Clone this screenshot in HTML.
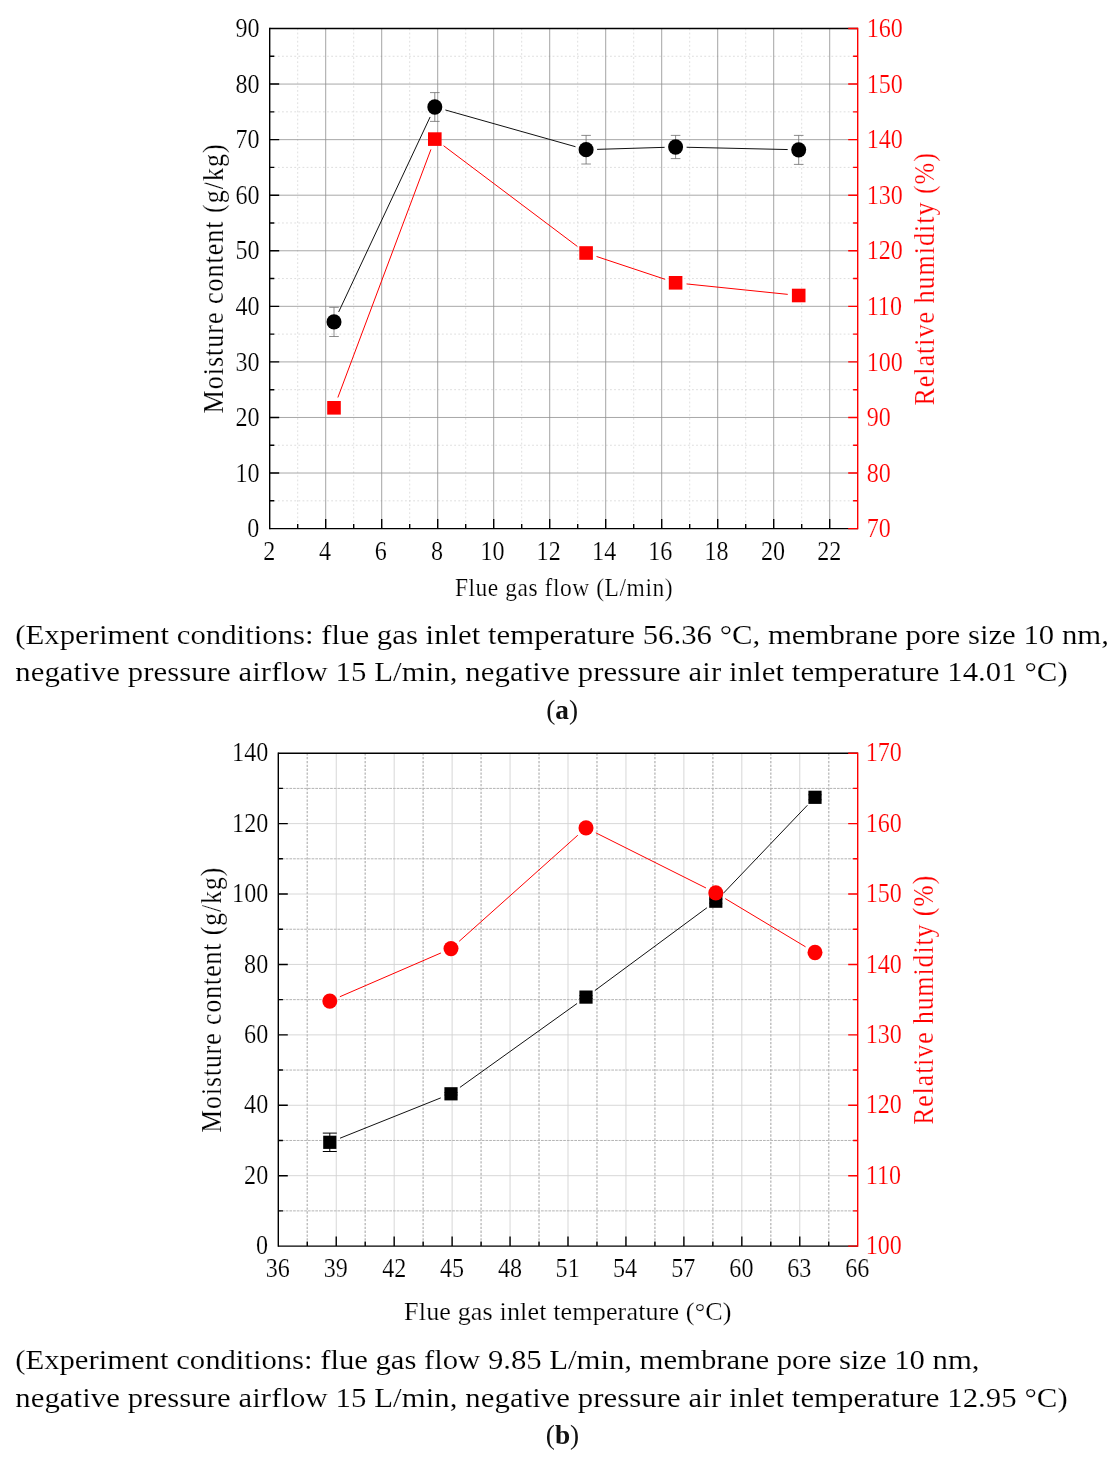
<!DOCTYPE html>
<html lang="en"><head><meta charset="utf-8"><title>Figure</title>
<style>
html,body{margin:0;padding:0;background:#fff;}
body{width:1118px;height:1459px;position:relative;overflow:hidden;font-family:'Liberation Serif','Times New Roman',Times,serif;color:#000;}
svg{position:absolute;left:0;top:0;}
svg text{font-family:'Liberation Serif','Times New Roman',Times,serif;}
</style></head><body>
<svg width="1118" height="1459" viewBox="0 0 1118 1459">
<g id="chartA">
<path d="M297.7 28.5V528.6M353.7 28.5V528.6M409.7 28.5V528.6M465.7 28.5V528.6M521.7 28.5V528.6M577.7 28.5V528.6M633.7 28.5V528.6M689.7 28.5V528.6M745.7 28.5V528.6M801.7 28.5V528.6" stroke="#d6d6d6" stroke-width="0.8" fill="none" stroke-dasharray="1.8 2.3"/>
<path d="M269.7 500.82H857.7M269.7 445.25H857.7M269.7 389.68H857.7M269.7 334.12H857.7M269.7 278.55H857.7M269.7 222.98H857.7M269.7 167.42H857.7M269.7 111.85H857.7M269.7 56.28H857.7" stroke="#d6d6d6" stroke-width="0.8" fill="none" stroke-dasharray="1.8 2.3"/>
<path d="M325.7 28.5V528.6M381.7 28.5V528.6M437.7 28.5V528.6M493.7 28.5V528.6M549.7 28.5V528.6M605.7 28.5V528.6M661.7 28.5V528.6M717.7 28.5V528.6M773.7 28.5V528.6M829.7 28.5V528.6" stroke="#828282" stroke-width="0.72" fill="none"/>
<path d="M269.7 473.03H857.7M269.7 417.47H857.7M269.7 361.9H857.7M269.7 306.33H857.7M269.7 250.77H857.7M269.7 195.2H857.7M269.7 139.63H857.7M269.7 84.07H857.7" stroke="#929292" stroke-width="0.8" fill="none"/>
<path d="M334 307.3V336.5M329.2 307.3H338.8M329.2 336.5H338.8M434.8 92.6V121.4M430 92.6H439.6M430 121.4H439.6M586.1 135.4V164M581.3 135.4H590.9M581.3 164H590.9M675.6 135.4V158.6M670.8 135.4H680.4M670.8 158.6H680.4M798.7 135.4V164.4M793.9 135.4H803.5M793.9 164.4H803.5" stroke="#6e6e6e" stroke-width="0.8" fill="none"/>
<path d="M338.67 311.94L430.13 116.96M445.39 109.99L575.51 146.71M597.09 149.37L664.61 147.33M686.6 147.25L787.7 149.55" stroke="#111" stroke-width="1" fill="none"/>
<ellipse cx="334" cy="321.9" rx="7.5" ry="7.65" fill="#000"/>
<ellipse cx="434.8" cy="107" rx="7.5" ry="7.65" fill="#000"/>
<ellipse cx="586.1" cy="149.7" rx="7.5" ry="7.65" fill="#000"/>
<ellipse cx="675.6" cy="147" rx="7.5" ry="7.65" fill="#000"/>
<ellipse cx="798.7" cy="149.8" rx="7.5" ry="7.65" fill="#000"/>
<path d="M337.86 397.5L430.94 149.4M443.59 145.72L577.31 246.38M596.54 256.48L665.16 279.32M686.54 283.93L787.76 294.37" stroke="#ff0000" stroke-width="1" fill="none"/>
<rect x="327.2" y="401" width="13.6" height="13.6" fill="#ff0000"/>
<rect x="428" y="132.3" width="13.6" height="13.6" fill="#ff0000"/>
<rect x="579.3" y="246.2" width="13.6" height="13.6" fill="#ff0000"/>
<rect x="668.8" y="276" width="13.6" height="13.6" fill="#ff0000"/>
<rect x="791.9" y="288.7" width="13.6" height="13.6" fill="#ff0000"/>
<line x1="269.7" y1="28.5" x2="857.7" y2="28.5" stroke="#000" stroke-width="1.4"/>
<line x1="269.7" y1="528.6" x2="857.7" y2="528.6" stroke="#000" stroke-width="1.4"/>
<line x1="269.7" y1="27.8" x2="269.7" y2="529.3" stroke="#000" stroke-width="1.4"/>
<path d="M269.7 473.03H279.2M269.7 417.47H279.2M269.7 361.9H279.2M269.7 306.33H279.2M269.7 250.77H279.2M269.7 195.2H279.2M269.7 139.63H279.2M269.7 84.07H279.2" stroke="#000" stroke-width="1.4" fill="none"/>
<path d="M269.7 500.82H274.3M269.7 445.25H274.3M269.7 389.68H274.3M269.7 334.12H274.3M269.7 278.55H274.3M269.7 222.98H274.3M269.7 167.42H274.3M269.7 111.85H274.3M269.7 56.28H274.3" stroke="#000" stroke-width="1.4" fill="none"/>
<path d="M325.7 528.6V519.1M381.7 528.6V519.1M437.7 528.6V519.1M493.7 528.6V519.1M549.7 528.6V519.1M605.7 528.6V519.1M661.7 528.6V519.1M717.7 528.6V519.1M773.7 528.6V519.1M829.7 528.6V519.1" stroke="#000" stroke-width="1.4" fill="none"/>
<path d="M297.7 528.6V524M353.7 528.6V524M409.7 528.6V524M465.7 528.6V524M521.7 528.6V524M577.7 528.6V524M633.7 528.6V524M689.7 528.6V524M745.7 528.6V524M801.7 528.6V524" stroke="#000" stroke-width="1.4" fill="none"/>
<line x1="857.7" y1="27.8" x2="857.7" y2="529.3" stroke="#ff0000" stroke-width="1.4"/>
<path d="M848.2 528.6H857.7M848.2 473.03H857.7M848.2 417.47H857.7M848.2 361.9H857.7M848.2 306.33H857.7M848.2 250.77H857.7M848.2 195.2H857.7M848.2 139.63H857.7M848.2 84.07H857.7M848.2 28.5H857.7" stroke="#ff0000" stroke-width="1.4" fill="none"/>
<path d="M853.1 500.82H857.7M853.1 445.25H857.7M853.1 389.68H857.7M853.1 334.12H857.7M853.1 278.55H857.7M853.1 222.98H857.7M853.1 167.42H857.7M853.1 111.85H857.7M853.1 56.28H857.7" stroke="#ff0000" stroke-width="1.4" fill="none"/>
<text transform="translate(247.37 537.2) scale(0.88 1)" font-size="27.4" fill="#000" stroke="#fff" stroke-width="0.2">0</text>
<text transform="translate(235.38 481.63) scale(0.88 1)" font-size="27.4" fill="#000" stroke="#fff" stroke-width="0.2">10</text>
<text transform="translate(235.38 426.07) scale(0.88 1)" font-size="27.4" fill="#000" stroke="#fff" stroke-width="0.2">20</text>
<text transform="translate(235.38 370.5) scale(0.88 1)" font-size="27.4" fill="#000" stroke="#fff" stroke-width="0.2">30</text>
<text transform="translate(235.38 314.93) scale(0.88 1)" font-size="27.4" fill="#000" stroke="#fff" stroke-width="0.2">40</text>
<text transform="translate(235.38 259.37) scale(0.88 1)" font-size="27.4" fill="#000" stroke="#fff" stroke-width="0.2">50</text>
<text transform="translate(235.38 203.8) scale(0.88 1)" font-size="27.4" fill="#000" stroke="#fff" stroke-width="0.2">60</text>
<text transform="translate(235.38 148.23) scale(0.88 1)" font-size="27.4" fill="#000" stroke="#fff" stroke-width="0.2">70</text>
<text transform="translate(235.38 92.67) scale(0.88 1)" font-size="27.4" fill="#000" stroke="#fff" stroke-width="0.2">80</text>
<text transform="translate(235.38 37.1) scale(0.88 1)" font-size="27.4" fill="#000" stroke="#fff" stroke-width="0.2">90</text>
<text transform="translate(866.7 537.2) scale(0.88 1)" font-size="27.4" fill="#ff0000" stroke="#fff" stroke-width="0.2">70</text>
<text transform="translate(866.7 481.63) scale(0.88 1)" font-size="27.4" fill="#ff0000" stroke="#fff" stroke-width="0.2">80</text>
<text transform="translate(866.7 426.07) scale(0.88 1)" font-size="27.4" fill="#ff0000" stroke="#fff" stroke-width="0.2">90</text>
<text transform="translate(866.7 370.5) scale(0.88 1)" font-size="27.4" fill="#ff0000" stroke="#fff" stroke-width="0.2">100</text>
<text transform="translate(866.7 314.93) scale(0.88 1)" font-size="27.4" fill="#ff0000" stroke="#fff" stroke-width="0.2">110</text>
<text transform="translate(866.7 259.37) scale(0.88 1)" font-size="27.4" fill="#ff0000" stroke="#fff" stroke-width="0.2">120</text>
<text transform="translate(866.7 203.8) scale(0.88 1)" font-size="27.4" fill="#ff0000" stroke="#fff" stroke-width="0.2">130</text>
<text transform="translate(866.7 148.23) scale(0.88 1)" font-size="27.4" fill="#ff0000" stroke="#fff" stroke-width="0.2">140</text>
<text transform="translate(866.7 92.67) scale(0.88 1)" font-size="27.4" fill="#ff0000" stroke="#fff" stroke-width="0.2">150</text>
<text transform="translate(866.7 37.1) scale(0.88 1)" font-size="27.4" fill="#ff0000" stroke="#fff" stroke-width="0.2">160</text>
<text transform="translate(263.13 559.6) scale(0.88 1)" font-size="27.4" fill="#000" stroke="#fff" stroke-width="0.2">2</text>
<text transform="translate(318.95 559.6) scale(0.88 1)" font-size="27.4" fill="#000" stroke="#fff" stroke-width="0.2">4</text>
<text transform="translate(374.83 559.6) scale(0.88 1)" font-size="27.4" fill="#000" stroke="#fff" stroke-width="0.2">6</text>
<text transform="translate(431.01 559.6) scale(0.88 1)" font-size="27.4" fill="#000" stroke="#fff" stroke-width="0.2">8</text>
<text transform="translate(480.41 559.6) scale(0.88 1)" font-size="27.4" fill="#000" stroke="#fff" stroke-width="0.2">10</text>
<text transform="translate(536.59 559.6) scale(0.88 1)" font-size="27.4" fill="#000" stroke="#fff" stroke-width="0.2">12</text>
<text transform="translate(592.11 559.6) scale(0.88 1)" font-size="27.4" fill="#000" stroke="#fff" stroke-width="0.2">14</text>
<text transform="translate(648.29 559.6) scale(0.88 1)" font-size="27.4" fill="#000" stroke="#fff" stroke-width="0.2">16</text>
<text transform="translate(704.41 559.6) scale(0.88 1)" font-size="27.4" fill="#000" stroke="#fff" stroke-width="0.2">18</text>
<text transform="translate(760.95 559.6) scale(0.88 1)" font-size="27.4" fill="#000" stroke="#fff" stroke-width="0.2">20</text>
<text transform="translate(817.13 559.6) scale(0.88 1)" font-size="27.4" fill="#000" stroke="#fff" stroke-width="0.2">22</text>
<text transform="translate(454.9 596.1) scale(0.9 1)" font-size="26.1" fill="#000" letter-spacing="0.61" stroke="#fff" stroke-width="0.2">Flue gas flow (L/min)</text>
<text transform="translate(223.1 412.6) rotate(-90) translate(-0.78 0) scale(0.9 1)" font-size="29" fill="#000" letter-spacing="1.07" stroke="#fff" stroke-width="0.2">Moisture content (g/kg)</text>
<text transform="translate(933.9 404.8) rotate(-90) translate(-0.78 0) scale(0.9 1)" font-size="29" fill="#ff0000" letter-spacing="1.07" stroke="#fff" stroke-width="0.2">Relative humidity (%)</text>
</g>
<g id="chartB">
<path d="M336.24 753.2V1246.1M394.18 753.2V1246.1M452.12 753.2V1246.1M510.06 753.2V1246.1M568 753.2V1246.1M625.94 753.2V1246.1M683.88 753.2V1246.1M741.82 753.2V1246.1M799.76 753.2V1246.1" stroke="#d2d2d2" stroke-width="0.9" fill="none"/>
<path d="M278.3 1175.69H857.7M278.3 1105.27H857.7M278.3 1034.86H857.7M278.3 964.44H857.7M278.3 894.03H857.7M278.3 823.61H857.7" stroke="#d2d2d2" stroke-width="0.9" fill="none"/>
<path d="M307.27 753.2V1246.1M365.21 753.2V1246.1M423.15 753.2V1246.1M481.09 753.2V1246.1M539.03 753.2V1246.1M596.97 753.2V1246.1M654.91 753.2V1246.1M712.85 753.2V1246.1M770.79 753.2V1246.1M828.73 753.2V1246.1" stroke="#c0c0c0" stroke-width="1.5" fill="none" stroke-dasharray="2.3 1.55"/>
<path d="M278.3 1210.89H857.7M278.3 1140.48H857.7M278.3 1070.06H857.7M278.3 999.65H857.7M278.3 929.24H857.7M278.3 858.82H857.7M278.3 788.41H857.7" stroke="#b4b4b4" stroke-width="1" fill="none" stroke-dasharray="2.7 1"/>
<path d="M329.8 1133.1V1151.5M322.8 1133.1H336.8M322.8 1151.5H336.8" stroke="#000" stroke-width="1" fill="none"/>
<path d="M451 1092.6V1095M444.5 1092.6H457.5M444.5 1095H457.5M586 995.6V998.6M579.5 995.6H592.5M579.5 998.6H592.5M715.8 899.2V903.2M709.3 899.2H722.3M709.3 903.2H722.3M815 794.8V799.8M808.5 794.8H821.5M808.5 799.8H821.5" stroke="#000" stroke-width="1" fill="none"/>
<path d="M340.01 1138.21L440.79 1097.89M459.94 1087.39L577.06 1003.51M594.85 990.56L706.95 907.74M723.4 893.24L807.4 805.26" stroke="#111" stroke-width="1" fill="none"/>
<rect x="323.2" y="1135.7" width="13.2" height="13.2" fill="#000"/>
<rect x="444.4" y="1087.2" width="13.2" height="13.2" fill="#000"/>
<rect x="579.4" y="990.5" width="13.2" height="13.2" fill="#000"/>
<rect x="709.2" y="894.6" width="13.2" height="13.2" fill="#000"/>
<rect x="808.4" y="790.7" width="13.2" height="13.2" fill="#000"/>
<path d="M339.89 996.73L440.91 952.97M459.2 941.27L577.8 835.23M595.84 832.83L705.96 887.97M725.23 898.57L805.57 946.83" stroke="#ff0000" stroke-width="1" fill="none"/>
<ellipse cx="329.8" cy="1001.1" rx="7.5" ry="7.65" fill="#ff0000"/>
<ellipse cx="451" cy="948.6" rx="7.5" ry="7.65" fill="#ff0000"/>
<ellipse cx="586" cy="827.9" rx="7.5" ry="7.65" fill="#ff0000"/>
<ellipse cx="715.8" cy="892.9" rx="7.5" ry="7.65" fill="#ff0000"/>
<ellipse cx="815" cy="952.5" rx="7.5" ry="7.65" fill="#ff0000"/>
<line x1="278.3" y1="753.2" x2="857.7" y2="753.2" stroke="#000" stroke-width="1.4"/>
<line x1="278.3" y1="1246.1" x2="857.7" y2="1246.1" stroke="#000" stroke-width="1.4"/>
<line x1="278.3" y1="752.5" x2="278.3" y2="1246.8" stroke="#000" stroke-width="1.4"/>
<path d="M278.3 1175.69H287.8M278.3 1105.27H287.8M278.3 1034.86H287.8M278.3 964.44H287.8M278.3 894.03H287.8M278.3 823.61H287.8" stroke="#000" stroke-width="1.4" fill="none"/>
<path d="M278.3 1210.89H282.9M278.3 1140.48H282.9M278.3 1070.06H282.9M278.3 999.65H282.9M278.3 929.24H282.9M278.3 858.82H282.9M278.3 788.41H282.9" stroke="#000" stroke-width="1.4" fill="none"/>
<path d="M336.24 1246.1V1236.6M394.18 1246.1V1236.6M452.12 1246.1V1236.6M510.06 1246.1V1236.6M568 1246.1V1236.6M625.94 1246.1V1236.6M683.88 1246.1V1236.6M741.82 1246.1V1236.6M799.76 1246.1V1236.6" stroke="#000" stroke-width="1.4" fill="none"/>
<path d="M307.27 1246.1V1241.5M365.21 1246.1V1241.5M423.15 1246.1V1241.5M481.09 1246.1V1241.5M539.03 1246.1V1241.5M596.97 1246.1V1241.5M654.91 1246.1V1241.5M712.85 1246.1V1241.5M770.79 1246.1V1241.5M828.73 1246.1V1241.5" stroke="#000" stroke-width="1.4" fill="none"/>
<line x1="857.7" y1="752.5" x2="857.7" y2="1246.8" stroke="#ff0000" stroke-width="1.4"/>
<path d="M848.2 1246.1H857.7M848.2 1175.69H857.7M848.2 1105.27H857.7M848.2 1034.86H857.7M848.2 964.44H857.7M848.2 894.03H857.7M848.2 823.61H857.7M848.2 753.2H857.7" stroke="#ff0000" stroke-width="1.4" fill="none"/>
<path d="M853.1 1210.89H857.7M853.1 1140.48H857.7M853.1 1070.06H857.7M853.1 999.65H857.7M853.1 929.24H857.7M853.1 858.82H857.7M853.1 788.41H857.7" stroke="#ff0000" stroke-width="1.4" fill="none"/>
<text transform="translate(256.07 1254.2) scale(0.88 1)" font-size="27.4" fill="#000" stroke="#fff" stroke-width="0.2">0</text>
<text transform="translate(244.08 1183.79) scale(0.88 1)" font-size="27.4" fill="#000" stroke="#fff" stroke-width="0.2">20</text>
<text transform="translate(244.08 1113.37) scale(0.88 1)" font-size="27.4" fill="#000" stroke="#fff" stroke-width="0.2">40</text>
<text transform="translate(244.08 1042.96) scale(0.88 1)" font-size="27.4" fill="#000" stroke="#fff" stroke-width="0.2">60</text>
<text transform="translate(244.08 972.54) scale(0.88 1)" font-size="27.4" fill="#000" stroke="#fff" stroke-width="0.2">80</text>
<text transform="translate(232.1 902.13) scale(0.88 1)" font-size="27.4" fill="#000" stroke="#fff" stroke-width="0.2">100</text>
<text transform="translate(232.1 831.71) scale(0.88 1)" font-size="27.4" fill="#000" stroke="#fff" stroke-width="0.2">120</text>
<text transform="translate(232.1 761.3) scale(0.88 1)" font-size="27.4" fill="#000" stroke="#fff" stroke-width="0.2">140</text>
<text transform="translate(865.75 1254.3) scale(0.88 1)" font-size="27.4" fill="#ff0000" stroke="#fff" stroke-width="0.2">100</text>
<text transform="translate(865.75 1183.89) scale(0.88 1)" font-size="27.4" fill="#ff0000" stroke="#fff" stroke-width="0.2">110</text>
<text transform="translate(865.75 1113.47) scale(0.88 1)" font-size="27.4" fill="#ff0000" stroke="#fff" stroke-width="0.2">120</text>
<text transform="translate(865.75 1043.06) scale(0.88 1)" font-size="27.4" fill="#ff0000" stroke="#fff" stroke-width="0.2">130</text>
<text transform="translate(865.75 972.64) scale(0.88 1)" font-size="27.4" fill="#ff0000" stroke="#fff" stroke-width="0.2">140</text>
<text transform="translate(865.75 902.23) scale(0.88 1)" font-size="27.4" fill="#ff0000" stroke="#fff" stroke-width="0.2">150</text>
<text transform="translate(865.75 831.81) scale(0.88 1)" font-size="27.4" fill="#ff0000" stroke="#fff" stroke-width="0.2">160</text>
<text transform="translate(865.75 761.4) scale(0.88 1)" font-size="27.4" fill="#ff0000" stroke="#fff" stroke-width="0.2">170</text>
<text transform="translate(265.67 1277) scale(0.88 1)" font-size="27.4" fill="#000" stroke="#fff" stroke-width="0.2">36</text>
<text transform="translate(323.73 1277) scale(0.88 1)" font-size="27.4" fill="#000" stroke="#fff" stroke-width="0.2">39</text>
<text transform="translate(382.21 1277) scale(0.88 1)" font-size="27.4" fill="#000" stroke="#fff" stroke-width="0.2">42</text>
<text transform="translate(439.97 1277) scale(0.88 1)" font-size="27.4" fill="#000" stroke="#fff" stroke-width="0.2">45</text>
<text transform="translate(497.91 1277) scale(0.88 1)" font-size="27.4" fill="#000" stroke="#fff" stroke-width="0.2">48</text>
<text transform="translate(555.61 1277) scale(0.88 1)" font-size="27.4" fill="#000" stroke="#fff" stroke-width="0.2">51</text>
<text transform="translate(613.01 1277) scale(0.88 1)" font-size="27.4" fill="#000" stroke="#fff" stroke-width="0.2">54</text>
<text transform="translate(671.13 1277) scale(0.88 1)" font-size="27.4" fill="#000" stroke="#fff" stroke-width="0.2">57</text>
<text transform="translate(729.37 1277) scale(0.88 1)" font-size="27.4" fill="#000" stroke="#fff" stroke-width="0.2">60</text>
<text transform="translate(787.31 1277) scale(0.88 1)" font-size="27.4" fill="#000" stroke="#fff" stroke-width="0.2">63</text>
<text transform="translate(845.13 1277) scale(0.88 1)" font-size="27.4" fill="#000" stroke="#fff" stroke-width="0.2">66</text>
<text transform="translate(404.12 1320.1)" font-size="26.1" fill="#000" letter-spacing="0.13" stroke="#fff" stroke-width="0.2">Flue gas inlet temperature (°C)</text>
<text transform="translate(220.9 1131.9) rotate(-90) translate(-0.77 0) scale(0.9 1)" font-size="28.5" fill="#000" letter-spacing="1.08" stroke="#fff" stroke-width="0.2">Moisture content (g/kg)</text>
<text transform="translate(932.7 1124) rotate(-90) translate(-0.77 0) scale(0.9 1)" font-size="28.5" fill="#ff0000" letter-spacing="1.09" stroke="#fff" stroke-width="0.2">Relative humidity (%)</text>
</g>
<g id="captions">
<text transform="translate(15.22 643.6) scale(1.17 1)" font-size="26.3" fill="#000" letter-spacing="0.01" stroke="#fff" stroke-width="0.12">(Experiment conditions: flue gas inlet temperature 56.36 °C, membrane pore size 10 nm,</text>
<text transform="translate(15.23 681.1) scale(1.17 1)" font-size="26.3" fill="#000" letter-spacing="0.06" stroke="#fff" stroke-width="0.12">negative pressure airflow 15 L/min, negative pressure air inlet temperature 14.01 °C)</text>
<text transform="translate(15.22 1369.3) scale(1.17 1)" font-size="26.3" fill="#000" letter-spacing="-0.03" stroke="#fff" stroke-width="0.12">(Experiment conditions: flue gas flow 9.85 L/min, membrane pore size 10 nm,</text>
<text transform="translate(15.23 1406.7) scale(1.17 1)" font-size="26.3" fill="#000" letter-spacing="0.06" stroke="#fff" stroke-width="0.12">negative pressure airflow 15 L/min, negative pressure air inlet temperature 12.95 °C)</text>
<text transform="translate(546.15 718.9) scale(1.04 1)" font-size="26.3" fill="#111">(<tspan font-weight="bold">a</tspan>)</text>
<text transform="translate(545.78 1444.4) scale(1.04 1)" font-size="26.3" fill="#111">(<tspan font-weight="bold">b</tspan>)</text>
</g>
</svg>

</body></html>
